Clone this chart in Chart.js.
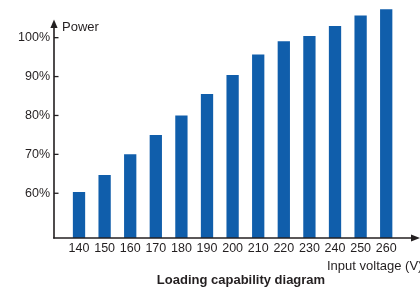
<!DOCTYPE html>
<html>
<head>
<meta charset="utf-8">
<script src="https://cdn.jsdelivr.net/npm/chart.js@4/dist/chart.umd.min.js"></script>
<style>
  html, body { margin: 0; padding: 0; background: #ffffff; }
  #wrap { width: 420px; height: 287px; position: relative; }
</style>
</head>
<body>
<div id="wrap"><canvas id="c" width="420" height="287"></canvas></div>
<script>
// ---- data ----
const voltages = [140, 150, 160, 170, 180, 190, 200, 210, 220, 230, 240, 250, 260];
const powerPct = [60.3, 64.7, 70, 75, 80, 85.5, 90.4, 95.7, 99.1, 100.4, 103, 105.7, 107.3];
const yTickValues = [60, 70, 80, 90, 100];
const chartTitle = 'Loading capability diagram';
const xAxisTitle = 'Input voltage (V)';
const yAxisTitle = 'Power';

const INK = '#231f20';
const FONT = '"Liberation Sans", Arial, Helvetica, sans-serif';

function zeroPadding(s) {
  s.paddingTop = 0; s.paddingBottom = 0; s.paddingLeft = 0; s.paddingRight = 0;
}

const axesPlugin = {
  id: 'axesPlugin',
  afterDatasetsDraw(chart) {
    const ctx = chart.ctx;
    const y = chart.scales.y;
    const ox = 54, oy = y.getPixelForValue(y.min);
    ctx.save();
    ctx.strokeStyle = INK;
    ctx.fillStyle = INK;
    ctx.lineWidth = 1.6;
    // y axis
    ctx.beginPath();
    ctx.moveTo(ox, oy + 0.5);
    ctx.lineTo(ox, 26);
    ctx.stroke();
    ctx.beginPath();
    ctx.moveTo(ox, 19.5);
    ctx.lineTo(ox - 3.6, 28);
    ctx.lineTo(ox + 3.6, 28);
    ctx.closePath();
    ctx.fill();
    // x axis
    ctx.beginPath();
    ctx.moveTo(ox - 0.8, oy);
    ctx.lineTo(413, oy);
    ctx.stroke();
    ctx.beginPath();
    ctx.moveTo(420, oy);
    ctx.lineTo(411, oy - 3.6);
    ctx.lineTo(411, oy + 3.6);
    ctx.closePath();
    ctx.fill();
    // y tick marks (inside)
    ctx.lineWidth = 1.3;
    yTickValues.forEach(v => {
      const py = y.getPixelForValue(v);
      ctx.beginPath();
      ctx.moveTo(ox, py);
      ctx.lineTo(ox + 4.5, py);
      ctx.stroke();
    });
    // axis titles
    ctx.font = '13px ' + FONT;
    ctx.textBaseline = 'middle';
    ctx.textAlign = 'left';
    ctx.fillText(yAxisTitle, 62, 27);
    ctx.fillText(xAxisTitle, 327, 266);
    // chart title
    ctx.font = 'bold 13px ' + FONT;
    ctx.textAlign = 'center';
    ctx.fillText(chartTitle, 241, 280);
    ctx.restore();
  }
};

new Chart(document.getElementById('c'), {
  type: 'bar',
  data: {
    datasets: [{
      data: voltages.map((v, i) => ({ x: v, y: powerPct[i] })),
      backgroundColor: '#105eab',
      borderWidth: 0,
      categoryPercentage: 1,
      barPercentage: 0.48
    }]
  },
  options: {
    responsive: false,
    animation: false,
    devicePixelRatio: 1,
    layout: { padding: { top: 5, right: 0, left: 0, bottom: 0 } },
    plugins: {
      legend: { display: false },
      tooltip: { enabled: false },
      title: { display: false }
    },
    scales: {
      x: {
        type: 'linear',
        offset: false,
        min: 130.23,
        max: 273.2,
        grid: { display: false, drawTicks: false, offset: false },
        border: { display: false },
        afterBuildTicks: s => { s.ticks = voltages.map(v => ({ value: v })); },
        afterFit: s => { s.height = 287 - 238; zeroPadding(s); },
        ticks: {
          color: INK,
          font: { family: FONT, size: 12.5 },
          padding: 3,
          maxRotation: 0,
          autoSkip: false,
          callback: v => String(v)
        }
      },
      y: {
        type: 'linear',
        min: 48.5,
        max: 108.4,
        grid: { display: false, drawTicks: false },
        border: { display: false },
        afterBuildTicks: s => { s.ticks = yTickValues.map(v => ({ value: v })); },
        afterFit: s => { s.width = 54; zeroPadding(s); },
        ticks: {
          color: INK,
          font: { family: FONT, size: 12.5 },
          padding: 4,
          callback: v => v + '%'
        }
      }
    }
  },
  plugins: [axesPlugin]
});
</script>
</body>
</html>
